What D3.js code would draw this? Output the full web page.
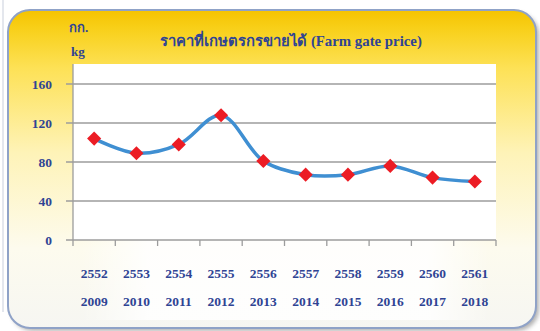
<!DOCTYPE html>
<html>
<head>
<meta charset="utf-8">
<script src="https://cdn.jsdelivr.net/npm/d3@7"></script>
<style>
  html, body { margin: 0; padding: 0; background: #ffffff; }
  svg { display: block; }
  text { font-family: "Liberation Serif", "Times New Roman", serif; font-weight: bold; fill: #2f4494; }
</style>
</head>
<body>
<svg id="chart" width="540" height="331"></svg>
<script>
// Farm gate price, baht per kg, by Thai (BE) year and Gregorian year
const yearsBE = ["2552", "2553", "2554", "2555", "2556", "2557", "2558", "2559", "2560", "2561"];
const yearsCE = ["2009", "2010", "2011", "2012", "2013", "2014", "2015", "2016", "2017", "2018"];
const prices = [104, 89, 98, 128, 81, 67, 67, 76, 64, 60];
const yTicks = [0, 40, 80, 120, 160];

const svg = d3.select("#chart");
const defs = svg.append("defs");

// Panel background gradients
const vg = defs.append("linearGradient").attr("id", "panelV").attr("x1", 0).attr("y1", 0).attr("x2", 0).attr("y2", 1);
[["0%", "#f5c300"], ["6%", "#f8d01a"], ["18%", "#fde155"], ["45%", "#fef3b8"], ["75%", "#fdfbee"], ["100%", "#f6f6f2"]]
  .forEach(([o, c]) => vg.append("stop").attr("offset", o).attr("stop-color", c));

const hg = defs.append("linearGradient").attr("id", "panelH").attr("x1", 0).attr("y1", 0).attr("x2", 1).attr("y2", 0);
[["0%", "#ffffff", 0], ["12%", "#ffffff", 0.0], ["25%", "#ffffff", 0.85], ["80%", "#ffffff", 0.85], ["92%", "#ffffff", 0], ["100%", "#ffffff", 0]]
  .forEach(([o, c, a]) => hg.append("stop").attr("offset", o).attr("stop-color", c).attr("stop-opacity", a));

const blur = defs.append("filter").attr("id", "soft").attr("x", "-10%").attr("y", "-10%").attr("width", "120%").attr("height", "120%");
blur.append("feGaussianBlur").attr("stdDeviation", 2);

// faint page line on the far left
svg.append("line").attr("x1", 3).attr("x2", 3).attr("y1", 0).attr("y2", 312)
  .attr("stroke", "#c9cfdc").attr("stroke-width", 1);

// drop shadow of the panel
svg.append("rect").attr("x", 11).attr("y", 13).attr("width", 528).attr("height", 318).attr("rx", 22)
  .attr("fill", "#7f7f7f").attr("opacity", 0.6).attr("filter", "url(#soft)");

// panel
svg.append("rect").attr("x", 8).attr("y", 10).attr("width", 528).attr("height", 318).attr("rx", 22)
  .attr("fill", "url(#panelV)").attr("stroke", "#8fa2c7").attr("stroke-width", 2);

// light area below the plot
svg.append("rect").attr("x", 20).attr("y", 200).attr("width", 510).attr("height", 120)
  .attr("fill", "url(#panelH)");

// Plot layout
const margin = { left: 73, right: 496 };
const plotTop = 64;

const x = d3.scaleBand().domain(yearsBE).range([margin.left, margin.right]).padding(0);
const y = d3.scaleLinear().domain([0, 160]).range([240, 84]);

// white plot area
svg.append("rect").attr("x", margin.left).attr("y", plotTop)
  .attr("width", margin.right - margin.left).attr("height", y(0) - plotTop)
  .attr("fill", "#ffffff");

// gridlines + y axis ticks
svg.append("g").selectAll("line").data(yTicks).join("line")
  .attr("x1", margin.left - 7).attr("x2", margin.right)
  .attr("y1", d => y(d)).attr("y2", d => y(d))
  .attr("stroke", "#9c9c9c").attr("stroke-width", 1.3);

// y axis line
svg.append("line").attr("x1", margin.left).attr("x2", margin.left)
  .attr("y1", plotTop).attr("y2", y(0))
  .attr("stroke", "#9c9c9c").attr("stroke-width", 1.3);

// y tick labels
svg.append("g").selectAll("text").data(yTicks).join("text")
  .attr("x", 52).attr("y", d => y(d) + 5)
  .attr("text-anchor", "end").attr("font-size", 13.5)
  .text(d => d);

// x tick marks at band boundaries
const bounds = yearsBE.map(d => x(d)).concat([margin.right]);
svg.append("g").selectAll("line").data(bounds).join("line")
  .attr("x1", d => d).attr("x2", d => d)
  .attr("y1", y(0)).attr("y2", y(0) + 6)
  .attr("stroke", "#9c9c9c").attr("stroke-width", 1.3);

// x labels: BE year above, CE year below
const cx = d => x(d) + x.bandwidth() / 2;
svg.append("g").selectAll("text").data(yearsBE).join("text")
  .attr("x", cx).attr("y", 278).attr("text-anchor", "middle").attr("font-size", 13.5)
  .text(d => d);
svg.append("g").selectAll("text").data(yearsCE).join("text")
  .attr("x", (d, i) => cx(yearsBE[i])).attr("y", 306).attr("text-anchor", "middle").attr("font-size", 13.5)
  .text(d => d);

// smoothed price line
const pts = prices.map((v, i) => [cx(yearsBE[i]), y(v)]);
const line = d3.line().curve(d3.curveCatmullRom.alpha(0.5));
svg.append("path").attr("d", line(pts))
  .attr("fill", "none").attr("stroke", "#3f8fd2").attr("stroke-width", 3.5)
  .attr("stroke-linejoin", "round").attr("stroke-linecap", "round");

// diamond markers
const diamond = d3.symbol().type(d3.symbolSquare).size(100);
svg.append("g").selectAll("path").data(pts).join("path")
  .attr("d", diamond)
  .attr("transform", d => `translate(${d[0]},${d[1]}) rotate(45)`)
  .attr("fill", "#ec1c24");

// title and unit labels
svg.append("text").attr("x", 291).attr("y", 46).attr("text-anchor", "middle").attr("font-size", 14.8)
  .text("ราคาที่เกษตรกรขายได้ (Farm gate price)");
svg.append("text").attr("x", 69).attr("y", 32).attr("font-size", 13).text("กก.");
svg.append("text").attr("x", 71).attr("y", 56).attr("font-size", 13).text("kg");
</script>
</body>
</html>
